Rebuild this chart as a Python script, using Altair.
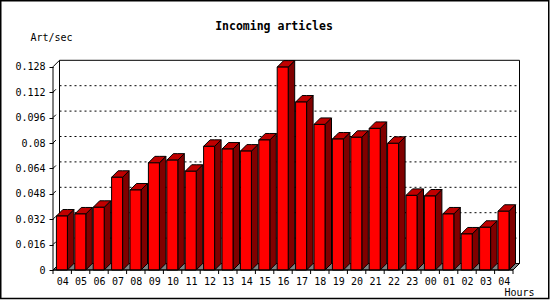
import json
import pandas as pd
import altair as alt

# ---- data ----
hours = ["04", "05", "06", "07", "08", "09", "10", "11", "12", "13", "14", "15", "16",
         "17", "18", "19", "20", "21", "22", "23", "00", "01", "02", "03", "04"]
rate = [0.0340, 0.0353, 0.0395, 0.0584, 0.0504, 0.0675, 0.0692, 0.0622, 0.0779,
        0.0762, 0.0749, 0.0819, 0.1278, 0.1058, 0.0917, 0.0825, 0.0836, 0.0892,
        0.0798, 0.0470, 0.0466, 0.0353, 0.0227, 0.0269, 0.0370]
y_ticks = [0, 0.016, 0.032, 0.048, 0.064, 0.08, 0.096, 0.112, 0.128]
title_text = ["Incoming articles"]

# ---- geometry (pseudo-3D look) ----
FONT = "DejaVu Sans Mono"
PX_UNIT = 18.4            # pixels per hour slot
W, H = 467, 210           # plot area (front axis to back wall)
N = len(hours)
X1 = W / PX_UNIT
Y_TOP = y_ticks[-1]
Y1 = Y_TOP * H / 203.2
DX = 6.5 / PX_UNIT        # depth offset in x units
DY = 6.5 * Y1 / H         # depth offset in y units
FL, FR = 3.4 / PX_UNIT, 14.4 / PX_UNIT

xs = alt.Scale(domain=[0, X1], nice=False, zero=False)
ys = alt.Scale(domain=[0, Y1], nice=False, zero=False)

label_expr = json.dumps(hours) + "[floor(datum.value)]"

XAXIS = alt.Axis(values=[i + 0.5 for i in range(N)], labelExpr=label_expr,
                 ticks=False, tickSize=0, domain=False, grid=False,
                 labelPadding=6, labelBaseline="top",
                 labelFont=FONT, labelFontSize=10, labelColor="black",
                 titleFont=FONT, titleFontSize=10, titleFontWeight="normal",
                 titleColor="black", titleX=481, titleY=25,
                 titleAlign="right", titleBaseline="alphabetic")
YAXIS = alt.Axis(values=y_ticks, format=".3~f", domain=False, grid=False,
                 tickSize=4, tickColor="black", labelPadding=4,
                 labelFont=FONT, labelFontSize=10, labelColor="black",
                 titleFont=FONT, titleFontSize=10, titleFontWeight="normal",
                 titleColor="black", titleAngle=0, titleX=-23, titleY=-20,
                 titleAlign="left", titleBaseline="alphabetic")


def X(f):
    return alt.X(f, type="quantitative", scale=xs, axis=XAXIS, title="Hours")


def Y(f):
    return alt.Y(f, type="quantitative", scale=ys, axis=YAXIS, title="Art/sec")


front = pd.DataFrame({"xl": [i + FL for i in range(N)],
                      "xr": [i + FR for i in range(N)],
                      "v": rate, "y0": [0.0] * N})

side_rows, top_rows = [], []
for i, v in enumerate(rate):
    side_rows += [(i, i + FR, v, 0.0), (i, i + FR + DX, v + DY, DY)]
    top_rows += [(i, i + FL, v, v), (i, i + FL + DX, v + DY, v),
                 (i, i + FR, v + DY, v), (i, i + FR + DX, v + DY, v + DY)]
side = pd.DataFrame(side_rows, columns=["bar", "x", "y", "y2"])
top = pd.DataFrame(top_rows, columns=["bar", "x", "y", "y2"])

floor = pd.DataFrame({"x": [0, DX, N, N + DX], "y": [0, DY, DY, DY], "y2": [0, 0, 0, DY]})
wall = pd.DataFrame({"x": [DX], "x2": [N + DX], "y": [DY], "y2": [Y_TOP + DY]})
grid = pd.DataFrame({"x": [DX] * 7, "x2": [N + DX] * 7, "y": [t + DY for t in y_ticks[1:-1]]})
diag = pd.DataFrame({"x": [0.0] * 8,
                     "x2": [DX * 0.45] * 7 + [DX],
                     "y": y_ticks[1:],
                     "y2": [t + DY * 0.45 for t in y_ticks[1:-1]] + [Y_TOP + DY]})
frontax = pd.DataFrame({"x": [0.0, 0.0], "x2": [0.0, float(N)], "y": [0.0, 0.0], "y2": [Y_TOP, 0.0]})
xticks = pd.DataFrame({"x": [float(i) for i in range(N + 1)]})
one = pd.DataFrame({"t": title_text})

border = alt.Chart(one).mark_rect(fill=None, stroke="black", strokeWidth=1.5).encode(
    x=alt.value(-52.25), x2=alt.value(495.75), y=alt.value(-59.25), y2=alt.value(238.6))

title_l = alt.Chart(one).mark_text(font=FONT, fontSize=11.5, fontWeight="bold", color="black",
                                   align="center", baseline="alphabetic").encode(
    text="t:N", x=alt.value(221), y=alt.value(-30))

floor_l = alt.Chart(floor).mark_area(color="#808080", stroke="black", strokeWidth=1).encode(
    x=X("x"), y=Y("y"), y2="y2:Q")

wall_l = alt.Chart(wall).mark_rect(fill=None, stroke="black", strokeWidth=1).encode(
    x=X("x"), x2="x2:Q", y=Y("y"), y2="y2:Q")

grid_l = alt.Chart(grid).mark_rule(color="black", strokeWidth=1, strokeDash=[2, 3]).encode(
    x=X("x"), x2="x2:Q", y=Y("y"))

diag_l = alt.Chart(diag).mark_rule(color="black", strokeWidth=1).encode(
    x=X("x"), x2="x2:Q", y=Y("y"), y2="y2:Q")

side_l = alt.Chart(side).mark_area(color="#800000", stroke="black", strokeWidth=1).encode(
    x=X("x"), y=Y("y"), y2="y2:Q", detail="bar:N")

top_l = alt.Chart(top).mark_area(color="#C00000", stroke="black", strokeWidth=1).encode(
    x=X("x"), y=Y("y"), y2="y2:Q", detail="bar:N")

front_l = alt.Chart(front).mark_rect(fill="#FF0000", stroke="black", strokeWidth=1).encode(
    x=X("xl"), x2="xr:Q", y=Y("v"), y2="y0:Q")

axis_l = alt.Chart(frontax).mark_rule(color="black", strokeWidth=1).encode(
    x=X("x"), x2="x2:Q", y=Y("y"), y2="y2:Q")

xtick_l = alt.Chart(xticks).mark_rule(color="black", strokeWidth=1).encode(
    x=X("x"), y=alt.value(H), y2=alt.value(H + 4))

chart = alt.layer(
    border, title_l, floor_l, wall_l, grid_l, diag_l, side_l, top_l, front_l, axis_l, xtick_l
).properties(
    width=W, height=H,
    autosize=alt.AutoSizeParams(type="none"),
    padding={"left": 53, "top": 60, "right": 30, "bottom": 30},
    background="white",
).configure_view(strokeWidth=0)

chart.save("out.html", embed_options={"renderer": "svg", "actions": False})
